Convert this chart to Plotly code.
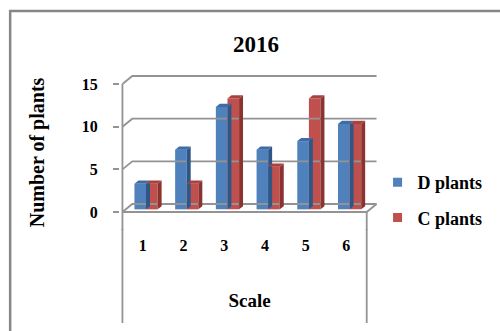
import plotly.graph_objects as go

# ---- data ----
categories = ["1", "2", "3", "4", "5", "6"]
d_plants = [3, 7, 12, 7, 8, 10]
c_plants = [3, 3, 13, 5, 13, 10]
y_ticks = [0, 5, 10, 15]
series_names = ["D plants", "C plants"]

# ---- pseudo-3D geometry ----
PX_X = 41.33          # px per category unit
PX_Y = 8.53           # px per value unit
DX = 10 / PX_X        # wall depth in x (data units)
DY = 8 / PX_Y         # wall depth in y (data units)
W = 11.8 / PX_X       # bar width
FO = 0.33             # depth position of bar front face
BD = 0.40             # bar depth
XP = 0.06             # small x padding so edge lines are not clipped
n = len(categories)

FLOOR_PX = 212        # pixel row of the front floor edge
LEFT_PX = 122         # pixel column of the front vertical axis
BOT_PX = 230          # bottom of plotting domain
BOX_BOTTOM_PX = 323   # bottom of the category box lines

XMIN, XMAX = -XP, n + DX + XP
YMIN = -(BOT_PX - FLOOR_PX) / PX_Y
YMAX = y_ticks[-1] + DY + 0.12
px_left = LEFT_PX + XMIN * PX_X
px_right = LEFT_PX + XMAX * PX_X
px_top = FLOOR_PX - YMAX * PX_Y

def paper_x(px):
    return (px - px_left) / (px_right - px_left)

def paper_y(py):
    return (BOT_PX - py) / (BOT_PX - px_top)

def bold(t):
    return "<b>" + str(t) + "</b>"

GRAY = "#939393"
front_cols = ["#4F81BD", "#C0504D"]
side_cols = ["#2E5686", "#8A3331"]
top_cols = ["#3D6CA6", "#A8423F"]
FONT = "Liberation Serif, Times New Roman, serif"

fig = go.Figure()

def line(xs, ys, color=GRAY, width=1.8):
    fig.add_trace(go.Scatter(x=xs, y=ys, mode="lines", hoverinfo="skip",
                             line=dict(color=color, width=width), showlegend=False))

# back wall gridlines with left wall diagonals
for v in y_ticks:
    line([0, DX, n + DX], [v, v + DY, v + DY])
# floor front edge and right edge
line([0, n, n + DX], [0, 0, DY])
# front vertical axis line
line([0, 0], [YMIN, y_ticks[-1]])
line([n, n], [YMIN, 0])

# bars (front face = Bar trace, side and top faces = filled polygons)
for s, vals in enumerate([d_plants, c_plants]):
    xl = [i + 0.5 + FO * DX + (s - 1) * W for i in range(n)]
    xr = [x + W for x in xl]
    y0 = FO * DY
    sx, sy, tx, ty = [], [], [], []
    for a, b, v in zip(xl, xr, vals):
        top = y0 + v
        sx += [b, b + BD * DX, b + BD * DX, b, b, None]
        sy += [y0, y0 + BD * DY, top + BD * DY, top, y0, None]
        tx += [a, b, b + BD * DX, a + BD * DX, a, None]
        ty += [top, top, top + BD * DY, top + BD * DY, top, None]
    fig.add_trace(go.Scatter(x=sx, y=sy, mode="lines", fill="toself",
                             fillcolor=side_cols[s], line=dict(width=0, color=side_cols[s]),
                             hoverinfo="skip", showlegend=False))
    fig.add_trace(go.Scatter(x=tx, y=ty, mode="lines", fill="toself",
                             fillcolor=top_cols[s], line=dict(width=0, color=top_cols[s]),
                             hoverinfo="skip", showlegend=False))
    fig.add_trace(go.Bar(x=[a + W / 2 for a in xl], y=vals, base=y0, width=W,
                         name=series_names[s], legendgroup=series_names[s], showlegend=False,
                         marker=dict(color=front_cols[s], line=dict(width=0))))
    # legend entry with a small square key
    fig.add_trace(go.Scatter(x=[None], y=[None], mode="markers", name=bold(series_names[s]),
                             legendgroup=series_names[s],
                             marker=dict(symbol="square", size=9, color=front_cols[s])))

shapes = [
    # outer chart frame
    dict(type="rect", xref="paper", yref="paper",
         x0=paper_x(8), x1=paper_x(520), y0=paper_y(345), y1=paper_y(11),
         line=dict(color="#878787", width=2.5), fillcolor="rgba(0,0,0,0)", layer="below"),
    # category box lines below the floor
    dict(type="line", xref="paper", yref="paper",
         x0=paper_x(LEFT_PX), x1=paper_x(LEFT_PX), y0=paper_y(BOX_BOTTOM_PX), y1=paper_y(BOT_PX - 1),
         line=dict(color=GRAY, width=1.8)),
    dict(type="line", xref="paper", yref="paper",
         x0=paper_x(LEFT_PX + n * PX_X), x1=paper_x(LEFT_PX + n * PX_X),
         y0=paper_y(BOX_BOTTOM_PX), y1=paper_y(BOT_PX - 1),
         line=dict(color=GRAY, width=1.8)),
]

fig.update_layout(
    width=500, height=331,
    margin=dict(l=px_left, r=500 - px_right, t=px_top, b=331 - BOT_PX),
    paper_bgcolor="white", plot_bgcolor="rgba(0,0,0,0)",
    barmode="overlay",
    font=dict(family=FONT, color="black"),
    title=dict(text=bold("2016"), x=256 / 500, xanchor="center",
               y=1 - 44 / 331, yanchor="middle", font=dict(size=23, family=FONT)),
    xaxis=dict(range=[XMIN, XMAX], tickvals=[i + 0.5 for i in range(n)],
               ticktext=[bold(c) for c in categories], showgrid=False, zeroline=False,
               showline=False, anchor="free", position=paper_y(FLOOR_PX), ticks="",
               ticklabelstandoff=22,
               tickfont=dict(size=16, family=FONT),
               title=dict(text=bold("Scale"), font=dict(size=19, family=FONT),
                          standoff=40)),
    yaxis=dict(range=[YMIN, YMAX], tickvals=y_ticks, ticktext=[bold(t) for t in y_ticks],
               showgrid=False, zeroline=False,
               showline=False, ticks="outside", ticklen=6, tickwidth=1.8, tickcolor=GRAY,
               ticklabelstandoff=12, tickfont=dict(size=16, family=FONT),
               title=dict(text=bold("Number of plants"),
                          font=dict(size=20, family=FONT), standoff=31)),
    legend=dict(x=paper_x(381), y=paper_y(164), xanchor="left", yanchor="top",
                font=dict(size=18, family=FONT), traceorder="grouped",
                tracegroupgap=9, bgcolor="rgba(0,0,0,0)"),
    shapes=shapes,
)

fig.write_html("out.html")
